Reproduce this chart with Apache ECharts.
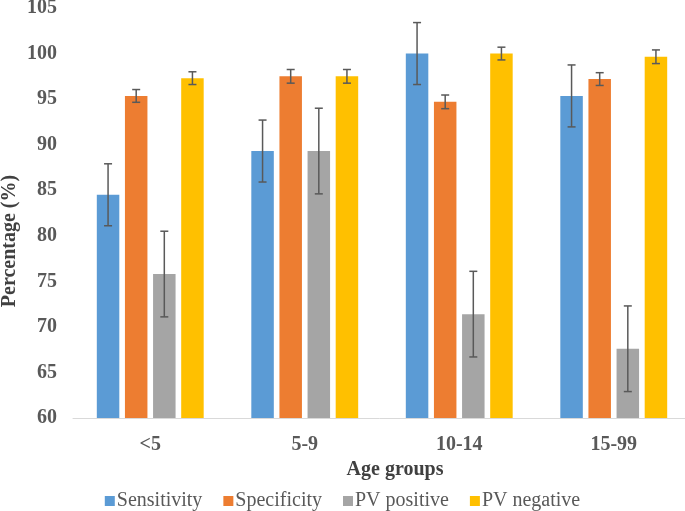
<!DOCTYPE html>
<html>
<head>
<meta charset="utf-8">
<script src="https://cdn.jsdelivr.net/npm/echarts@6/dist/echarts.min.js"></script>
<style>html,body{margin:0;padding:0;background:#fff;}#c{width:685px;height:511px;}</style>
</head>
<body>
<div id="c"></div>
<script>
const categories = ['<5', '5-9', '10-14', '15-99'];
const seriesNames = ['Sensitivity', 'Specificity', 'PV positive', 'PV negative'];
const sensitivity = [84.5, 89.3, 100, 95.35];
const specificity = [95.35, 97.5, 94.7, 97.2];
const pvPositive = [75.8, 89.3, 71.4, 67.6];
const pvNegative = [97.3, 97.5, 100, 99.65];
const sensitivityErr = [3.4, 3.4, 3.4, 3.4];
const specificityErr = [0.7, 0.75, 0.75, 0.7];
const pvPositiveErr = [4.7, 4.7, 4.7, 4.7];
const pvNegativeErr = [0.7, 0.75, 0.7, 0.75];
const yTicks = [60, 65, 70, 75, 80, 85, 90, 95, 100, 105];

const values = [sensitivity, specificity, pvPositive, pvNegative];
const errs = [sensitivityErr, specificityErr, pvPositiveErr, pvNegativeErr];
const colors = ['#5B9BD5', '#ED7D31', '#A5A5A5', '#FFC000'];
const BW = 22.5, GAP = 0.25;
const serif = '"Liberation Serif", "Times New Roman", serif';

const series = [];
values.forEach((vals, i) => {
  series.push({
    name: seriesNames[i], type: 'bar', data: vals,
    barWidth: BW, barGap: (GAP * 100) + '%',
    itemStyle: { color: colors[i] }
  });
});
values.forEach((vals, i) => {
  series.push({
    type: 'custom', name: seriesNames[i] + ' err', z: 10,
    data: vals.map((v, j) => [j, v - errs[i][j], v + errs[i][j]]),
    renderItem: function (params, api) {
      const x = api.value(0);
      const lo = api.coord([x, api.value(1)]);
      const hi = api.coord([x, api.value(2)]);
      const off = (i - 1.5) * BW * (1 + GAP);
      const cx = lo[0] + off;
      const cap = 4;
      const style = { stroke: '#595959', lineWidth: 1.5 };
      return {
        type: 'group', children: [
          { type: 'line', shape: { x1: cx, y1: lo[1], x2: cx, y2: hi[1] }, style },
          { type: 'line', shape: { x1: cx - cap, y1: lo[1], x2: cx + cap, y2: lo[1] }, style },
          { type: 'line', shape: { x1: cx - cap, y1: hi[1], x2: cx + cap, y2: hi[1] }, style }
        ]
      };
    },
    encode: { x: 0, y: [1, 2] },
    silent: true
  });
});

const chart = echarts.init(document.getElementById('c'), null, { renderer: 'canvas' });
chart.setOption({
  animation: false,
  backgroundColor: '#ffffff',
  textStyle: { fontFamily: serif },
  grid: { left: 73, right: -6, top: 8, bottom: 93, containLabel: false, outerBoundsMode: 'none' },
  legend: {
    data: seriesNames, top: 486, left: 'center',
    itemWidth: 10, itemHeight: 10, itemGap: 21, icon: 'rect',
    textStyle: { fontFamily: serif, fontSize: 20, color: '#595959', padding: [0, 0, 0, -3] }
  },
  graphic: [{
    type: 'text', x: 10, y: 241, rotation: Math.PI / 2,
    style: {
      text: 'Percentage (%)', x: 0, y: 0, align: 'center', verticalAlign: 'middle',
      font: 'bold 20px ' + serif, fill: '#404040'
    }
  }],
  xAxis: {
    type: 'category', data: categories,
    name: 'Age groups', nameLocation: 'middle', nameGap: 42,
    nameTextStyle: { fontFamily: serif, fontSize: 20, fontWeight: 'bold', color: '#404040', padding: [0, 0, 0, 26] },
    axisLine: { lineStyle: { color: '#D9D9D9', width: 1 } },
    axisTick: { show: false },
    axisLabel: { fontFamily: serif, fontSize: 20, fontWeight: 'bold', color: '#595959', margin: 17 }
  },
  yAxis: {
    type: 'value', min: yTicks[0], max: yTicks[yTicks.length - 1], interval: 5,
    axisLine: { show: false }, axisTick: { show: false },
    splitLine: { show: false },
    axisLabel: { fontFamily: serif, fontSize: 20, fontWeight: 'bold', color: '#595959', margin: 16 }
  },
  series
});
</script>
</body>
</html>
